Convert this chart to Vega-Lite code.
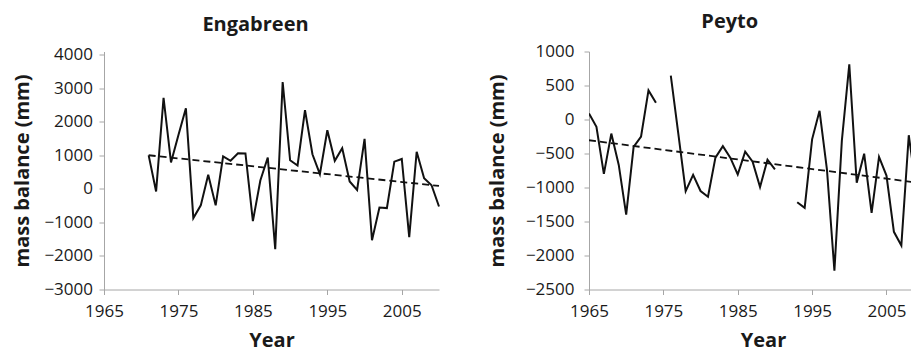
{
  "$schema": "https://vega.github.io/schema/vega-lite/v6.json",
  "padding": {"left": 12, "top": 11.5, "right": 0, "bottom": 0},
  "spacing": 44,
  "background": "white",
  "config": {
    "view": {"stroke": null},
    "font": "Open Sans",
    "axis": {
      "grid": false,
      "domainColor": "#a6a6a6",
      "tickColor": "#a6a6a6",
      "tickSize": 5,
      "labelFont": "Open Sans",
      "labelFontSize": 17,
      "labelColor": "#1a1a1a",
      "titleFont": "Open Sans",
      "titleFontSize": 20,
      "titleFontWeight": "bold",
      "titleColor": "#1a1a1a",
      "labelFlush": false,
      "labelOverlap": false
    },
    "title": {"font": "Open Sans", "fontSize": 20, "fontWeight": "bold", "color": "#1a1a1a", "baseline": "alphabetic", "offset": 10.5, "frame": "group"}
  },
  "datasets": {
    "engabreen": [
      {"year": 1971, "mb": 1000}, {"year": 1972, "mb": -75}, {"year": 1973, "mb": 2720}, {"year": 1974, "mb": 790},
      {"year": 1975, "mb": 1610}, {"year": 1976, "mb": 2405}, {"year": 1977, "mb": -870}, {"year": 1978, "mb": -490},
      {"year": 1979, "mb": 423}, {"year": 1980, "mb": -490}, {"year": 1981, "mb": 970}, {"year": 1982, "mb": 840},
      {"year": 1983, "mb": 1065}, {"year": 1984, "mb": 1060}, {"year": 1985, "mb": -960}, {"year": 1986, "mb": 250},
      {"year": 1987, "mb": 938}, {"year": 1988, "mb": -1800}, {"year": 1989, "mb": 3190}, {"year": 1990, "mb": 855},
      {"year": 1991, "mb": 700}, {"year": 1992, "mb": 2350}, {"year": 1993, "mb": 1035}, {"year": 1994, "mb": 442},
      {"year": 1995, "mb": 1750}, {"year": 1996, "mb": 840}, {"year": 1997, "mb": 1215}, {"year": 1998, "mb": 222},
      {"year": 1999, "mb": -28}, {"year": 2000, "mb": 1495}, {"year": 2001, "mb": -1532}, {"year": 2002, "mb": -555},
      {"year": 2003, "mb": -571}, {"year": 2004, "mb": 815}, {"year": 2005, "mb": 895}, {"year": 2006, "mb": -1436},
      {"year": 2007, "mb": 1110}, {"year": 2008, "mb": 318}, {"year": 2009, "mb": 110}, {"year": 2010, "mb": -525}
    ],
    "engTrend": [
      {"year": 1971, "mb": 1005}, {"year": 2010, "mb": 90}
    ],
    "peyto": [
      {"year": 1965, "mb": 89, "seg": 1}, {"year": 1966, "mb": -108, "seg": 1}, {"year": 1967, "mb": -800, "seg": 1},
      {"year": 1968, "mb": -207, "seg": 1}, {"year": 1969, "mb": -668, "seg": 1}, {"year": 1970, "mb": -1400, "seg": 1},
      {"year": 1971, "mb": -402, "seg": 1}, {"year": 1972, "mb": -250, "seg": 1}, {"year": 1973, "mb": 427, "seg": 1},
      {"year": 1974, "mb": 245, "seg": 1},
      {"year": 1976, "mb": 645, "seg": 2}, {"year": 1977, "mb": -200, "seg": 2}, {"year": 1978, "mb": -1053, "seg": 2},
      {"year": 1979, "mb": -815, "seg": 2}, {"year": 1980, "mb": -1052, "seg": 2}, {"year": 1981, "mb": -1135, "seg": 2},
      {"year": 1982, "mb": -561, "seg": 2}, {"year": 1983, "mb": -392, "seg": 2}, {"year": 1984, "mb": -561, "seg": 2},
      {"year": 1985, "mb": -808, "seg": 2}, {"year": 1986, "mb": -472, "seg": 2}, {"year": 1987, "mb": -620, "seg": 2},
      {"year": 1988, "mb": -993, "seg": 2}, {"year": 1989, "mb": -592, "seg": 2}, {"year": 1990, "mb": -735, "seg": 2},
      {"year": 1993, "mb": -1216, "seg": 3}, {"year": 1994, "mb": -1300, "seg": 3}, {"year": 1995, "mb": -292, "seg": 3},
      {"year": 1996, "mb": 128, "seg": 3}, {"year": 1997, "mb": -740, "seg": 3}, {"year": 1998, "mb": -2225, "seg": 3},
      {"year": 1999, "mb": -310, "seg": 3}, {"year": 2000, "mb": 810, "seg": 3}, {"year": 2001, "mb": -930, "seg": 3},
      {"year": 2002, "mb": -502, "seg": 3}, {"year": 2003, "mb": -1373, "seg": 3}, {"year": 2004, "mb": -551, "seg": 3},
      {"year": 2005, "mb": -825, "seg": 3}, {"year": 2006, "mb": -1652, "seg": 3}, {"year": 2007, "mb": -1852, "seg": 3},
      {"year": 2008, "mb": -231, "seg": 3}, {"year": 2009, "mb": -1030, "seg": 3}
    ],
    "peytoTrend": [
      {"year": 1965, "mb": -305}, {"year": 2010, "mb": -940}
    ]
  },
  "hconcat": [
    {
      "title": {"text": "Engabreen", "dx": -16},
      "width": 335,
      "height": 238,
      "encoding": {
        "x": {
          "field": "year", "type": "quantitative",
          "scale": {"domain": [1965, 2010], "nice": false, "zero": false},
          "axis": {"values": [1965, 1975, 1985, 1995, 2005], "format": "d", "title": "Year", "labelPadding": 9, "titlePadding": 11}
        },
        "y": {
          "field": "mb", "type": "quantitative",
          "scale": {"domain": [-3000, 4100], "nice": false, "zero": false},
          "axis": {"values": [-3000, -2000, -1000, 0, 1000, 2000, 3000, 4000], "format": "d", "title": "mass balance (mm)", "labelPadding": 6.5, "titlePadding": 11}
        }
      },
      "layer": [
        {"data": {"name": "engabreen"}, "mark": {"type": "line", "color": "#111111", "strokeWidth": 2}},
        {"data": {"name": "engTrend"}, "mark": {"type": "line", "color": "#111111", "strokeWidth": 1.8, "strokeDash": [7, 4]}}
      ]
    },
    {
      "title": {"text": "Peyto", "dx": -21},
      "width": 323.5,
      "height": 238,
      "encoding": {
        "x": {
          "field": "year", "type": "quantitative",
          "scale": {"domain": [1965, 2008.5], "nice": false, "zero": false},
          "axis": {"values": [1965, 1975, 1985, 1995, 2005], "format": "d", "title": "Year", "labelPadding": 9, "titlePadding": 11, "titleX": 174}
        },
        "y": {
          "field": "mb", "type": "quantitative",
          "scale": {"domain": [-2500, 1000], "nice": false, "zero": false},
          "axis": {"values": [-2500, -2000, -1500, -1000, -500, 0, 500, 1000], "format": "d", "title": "mass balance (mm)", "labelPadding": 10, "titlePadding": 18}
        }
      },
      "layer": [
        {"data": {"name": "peyto"}, "mark": {"type": "line", "color": "#111111", "strokeWidth": 2, "clip": true}, "encoding": {"detail": {"field": "seg", "type": "nominal"}}},
        {"data": {"name": "peytoTrend"}, "mark": {"type": "line", "color": "#111111", "strokeWidth": 1.8, "strokeDash": [7, 4], "clip": true}}
      ]
    }
  ]
}
